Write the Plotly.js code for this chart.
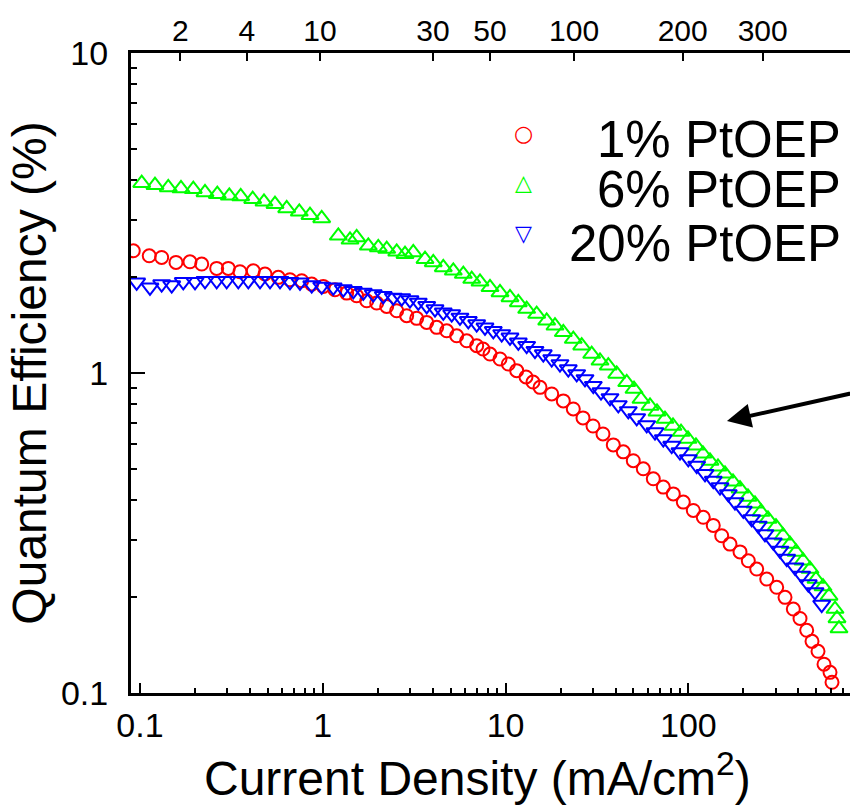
<!DOCTYPE html>
<html>
<head>
<meta charset="utf-8">
<script src="https://cdn.plot.ly/plotly-3.0.1.min.js"></script>
<style>
html, body { margin: 0; padding: 0; overflow: hidden; background: #fff; }
#chart { width: 880px; height: 806px; }
</style>
</head>
<body>
<div id="chart"></div>
<script>
// Current density (mA/cm2) and quantum efficiency (%) for each PtOEP doping level
const current1 = [0.0919,0.1124,0.1314,0.1574,0.1877,0.2176,0.2628,0.3041,0.3524,0.4167,0.4829,0.5710,0.6615,0.7667,0.8696,1.006,1.166,1.351,1.532,1.739,1.972,2.237,2.537,2.877,3.264,3.702,4.199,4.763,5.402,6.128,6.949,7.523,8.217,9.320,10.35,11.50,12.93,14.12,15.43,17.88,20.69,23.46,26.51,30.07,34.10,38.83,44.05,49.95,56.66,64.27,72.89,82.68,93.78,106.4,120.6,136.8,152.1,168.9,191.6,212.7,236.4,268.2,304.1,337.7,374.9,407.9,443.7,474.5,511.7,551.9,595.2,610.4];
const qe1 = [2.409,2.324,2.297,2.216,2.226,2.190,2.123,2.123,2.072,2.086,2.038,1.990,1.956,1.942,1.896,1.865,1.820,1.777,1.743,1.682,1.654,1.615,1.565,1.510,1.482,1.439,1.389,1.355,1.307,1.261,1.217,1.188,1.146,1.106,1.067,1.017,0.972,0.937,0.902,0.860,0.818,0.772,0.724,0.683,0.645,0.596,0.567,0.532,0.502,0.467,0.440,0.419,0.395,0.372,0.354,0.334,0.310,0.292,0.276,0.259,0.244,0.227,0.214,0.199,0.183,0.171,0.157,0.145,0.135,0.123,0.116,0.108];

const current6 = [0.1022,0.1208,0.1428,0.1676,0.1957,0.2268,0.2648,0.3080,0.3556,0.4135,0.4768,0.5477,0.6346,0.7437,0.8511,0.9863,1.216,1.409,1.532,1.774,2.012,2.237,2.537,2.817,3.127,3.624,4.022,4.563,5.176,5.871,6.525,7.244,8.217,9.320,10.57,11.74,13.04,14.79,16.78,18.63,20.69,23.46,26.08,29.58,32.84,36.46,40.54,45.98,50.41,55.04,61.66,67.33,74.47,82.37,91.11,99.50,110.0,120.2,131.3,145.2,158.6,175.4,191.6,211.8,231.4,249.6,272.5,301.4,329.2,359.6,387.8,423.6,462.6,498.9,544.9,587.7,633.9,650.0,666.6];
const qe6 = [3.920,3.864,3.800,3.773,3.754,3.666,3.621,3.577,3.562,3.494,3.426,3.370,3.267,3.188,3.113,3.041,2.684,2.607,2.652,2.497,2.469,2.439,2.391,2.352,2.381,2.269,2.216,2.138,2.086,2.038,1.966,1.928,1.852,1.786,1.723,1.662,1.584,1.528,1.456,1.405,1.340,1.277,1.217,1.146,1.092,1.054,0.993,0.935,0.891,0.829,0.789,0.756,0.718,0.683,0.654,0.622,0.592,0.559,0.531,0.509,0.484,0.457,0.435,0.410,0.390,0.368,0.350,0.331,0.310,0.292,0.276,0.259,0.244,0.227,0.215,0.201,0.183,0.171,0.159];

const current20 = [0.0959,0.1134,0.1314,0.1491,0.1725,0.2000,0.2268,0.2628,0.2980,0.3449,0.3913,0.4535,0.5144,0.5834,0.6615,0.7504,0.8696,0.9863,1.141,1.295,1.469,1.666,1.889,2.143,2.430,2.702,2.999,3.330,3.702,4.110,4.563,5.073,5.629,6.252,6.949,7.714,8.566,9.522,10.57,11.74,13.04,14.48,16.08,17.88,19.84,22.03,24.49,27.19,30.19,33.26,37.25,41.36,46.91,52.15,59.15,65.66,72.89,81.02,89.95,99.88,111.0,123.3,136.8,148.9,165.3,179.8,199.7,221.9,241.2,262.4,291.4,317.0,345.0,383.0,416.7,452.8,492.7,536.1];
const qe20 = [1.920,1.852,1.896,1.883,1.928,1.928,1.942,1.942,1.942,1.942,1.942,1.942,1.942,1.942,1.928,1.920,1.883,1.865,1.852,1.829,1.807,1.786,1.765,1.743,1.723,1.714,1.690,1.662,1.622,1.584,1.547,1.528,1.492,1.456,1.422,1.389,1.355,1.324,1.293,1.247,1.217,1.174,1.146,1.106,1.067,1.029,0.993,0.958,0.913,0.872,0.836,0.795,0.761,0.724,0.688,0.654,0.622,0.593,0.566,0.539,0.514,0.484,0.461,0.440,0.419,0.395,0.372,0.350,0.334,0.314,0.296,0.279,0.263,0.247,0.233,0.219,0.207,0.189];

const seriesNames = ["1% PtOEP", "6% PtOEP", "20% PtOEP"];

// Top (secondary) scale: labels and the current density each one sits at
const topTickLabels = ["2", "4", "10", "30", "50", "100", "200", "300"];
const topTickCurrent = [0.166, 0.384, 0.966, 4.01, 8.22, 23.7, 93.1, 255];

// Arrow pointing at the curves (tip, in data units)
const arrowTip = {current: 162.5, qe: 0.708};

const FONT = "Liberation Sans, Arial, Helvetica, sans-serif";
const xRange = [Math.log10(0.0893), 2.9825];

const traces = [
  {x: current1, y: qe1, name: seriesNames[0], type: "scatter", mode: "markers", hoverinfo: "skip",
   marker: {symbol: "circle-open", size: 13, color: "#ff0000", line: {width: 2, color: "#ff0000"}}},
  {x: current6, y: qe6, name: seriesNames[1], type: "scatter", mode: "markers", hoverinfo: "skip",
   marker: {symbol: "triangle-up-open", size: 15, color: "#00ff00", line: {width: 2, color: "#00ff00"}}},
  {x: current20, y: qe20, name: seriesNames[2], type: "scatter", mode: "markers", hoverinfo: "skip",
   marker: {symbol: "triangle-down-open", size: 15, color: "#0000ff", line: {width: 2, color: "#0000ff"}}},
  // invisible copy on the top axis so that the secondary scale is drawn
  {x: current6, y: qe6, xaxis: "x2", yaxis: "y", type: "scatter", mode: "markers",
   hoverinfo: "skip", showlegend: false, marker: {opacity: 0, size: 1}}
];

const legendColors = ["#ff0000", "#00ff00", "#0000ff"];
const legendGlyphs = ["\u25CB", "\u25B3", "\u25BD"];
const legendRowY = [0.8653, 0.7872, 0.7029];
const legendSymY = [0.8746, 0.7982, 0.7186];

const annotations = [
  {xref: "paper", yref: "paper", x: 0.4695, y: -0.1277, xanchor: "center", yanchor: "middle",
   text: "Current Density (mA/cm<sup>2</sup>)", showarrow: false,
   font: {family: FONT, size: 48, color: "#000"}},
  {xref: "x", yref: "y", x: Math.log10(arrowTip.current), y: Math.log10(arrowTip.qe),
   ax: 153, ay: -34, text: "", showarrow: true, arrowhead: 2, arrowsize: 1.2,
   arrowwidth: 4, arrowcolor: "#000", standoff: 0}
];
seriesNames.forEach((n, i) => {
  annotations.push({xref: "paper", yref: "paper", x: 0.9661, y: legendRowY[i],
    xanchor: "right", yanchor: "middle", text: n, showarrow: false, height: 46, valign: "middle",
    font: {family: FONT, size: 51, color: "#000"}});
  annotations.push({xref: "paper", yref: "paper", x: 0.5332, y: legendSymY[i],
    xanchor: "center", yanchor: "middle", text: legendGlyphs[i], showarrow: false,
    font: {family: "DejaVu Sans", size: 22, color: legendColors[i]}});
});

const layout = {
  width: 880, height: 806,
  margin: {l: 131, r: 12, t: 53, b: 113, pad: 0},
  paper_bgcolor: "#fff", plot_bgcolor: "#fff",
  showlegend: false,
  font: {family: FONT, color: "#000"},
  xaxis: {
    type: "log", range: xRange, autorange: false,
    tickmode: "linear", tick0: 0, dtick: 1,
    ticks: "inside", ticklen: 10, tickwidth: 2, tickcolor: "#000",
    minor: {ticks: "inside", ticklen: 5, tickwidth: 2, tickcolor: "#000", dtick: "D1", showgrid: false},
    showline: true, linewidth: 3, linecolor: "#000",
    showgrid: false, zeroline: false,
    tickfont: {family: FONT, size: 34, color: "#000"},
    ticklabelstandoff: 0
  },
  xaxis2: {
    type: "log", range: xRange, autorange: false, overlaying: "x", side: "top", anchor: "y",
    tickmode: "array", tickvals: topTickCurrent, ticktext: topTickLabels,
    ticks: "inside", ticklen: 8, tickwidth: 2, tickcolor: "#000",
    showline: true, linewidth: 3, linecolor: "#000",
    showgrid: false, zeroline: false,
    tickfont: {family: FONT, size: 30, color: "#000"},
    ticklabelstandoff: -3
  },
  yaxis: {
    type: "log", range: [-1, 1], autorange: false,
    tickmode: "linear", tick0: 0, dtick: 1,
    ticks: "inside", ticklen: 14, tickwidth: 2, tickcolor: "#000",
    minor: {ticks: "inside", ticklen: 6, tickwidth: 2, tickcolor: "#000", dtick: "D1", showgrid: false},
    showline: true, linewidth: 3, linecolor: "#000",
    showgrid: false, zeroline: false,
    tickfont: {family: FONT, size: 34, color: "#000"},
    ticklabelstandoff: 13,
    title: {text: "Quantum Efficiency (%)", font: {family: FONT, size: 48, color: "#000"}, standoff: 0}
  },
  annotations: annotations
};

Plotly.newPlot("chart", traces, layout, {displayModeBar: false, staticPlot: true});
</script>
</body>
</html>
